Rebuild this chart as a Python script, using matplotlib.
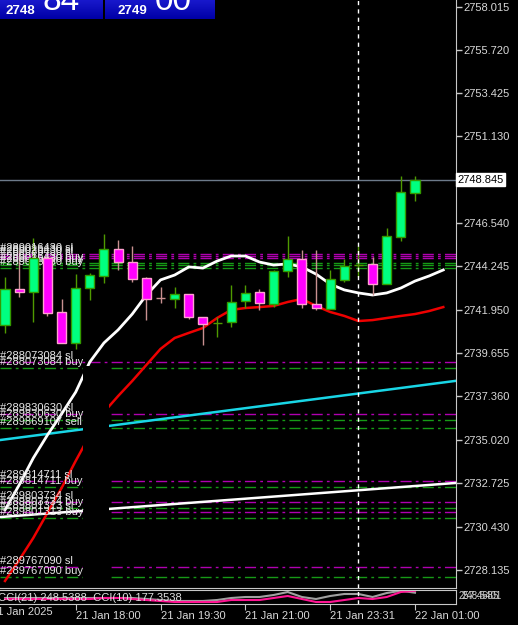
import matplotlib
matplotlib.use('Agg')
import matplotlib.pyplot as plt
import numpy as np
from matplotlib.patches import Rectangle
from matplotlib.colors import LinearSegmentedColormap

plt.rcParams['font.family'] = ['Liberation Sans', 'DejaVu Sans']

# ---------------- data ----------------
opens  = [2741.13, 2743.04, 2742.88, 2744.68, 2741.82, 2740.18, 2743.09, 2743.73, 2745.16, 2744.47,
          2743.62, 2742.58, 2742.51, 2742.78, 2741.55, 2741.22, 2741.29, 2742.40, 2742.88, 2742.24,
          2743.99, 2744.63, 2742.24, 2741.98, 2743.52, 2744.29, 2744.37, 2743.30, 2745.80, 2748.13]
highs  = [2743.68, 2745.11, 2745.74, 2744.68, 2742.51, 2743.83, 2743.89, 2745.96, 2745.64, 2745.32,
          2743.68, 2743.15, 2743.15, 2742.78, 2741.55, 2741.55, 2743.25, 2743.25, 2743.04, 2744.05,
          2745.85, 2745.11, 2745.11, 2744.05, 2744.63, 2745.32, 2744.74, 2746.27, 2749.03, 2749.03]
lows   = [2740.71, 2742.62, 2741.29, 2741.61, 2740.18, 2739.86, 2742.46, 2743.36, 2744.05, 2743.41,
          2741.39, 2742.30, 2742.03, 2741.45, 2740.07, 2740.49, 2741.02, 2742.03, 2741.93, 2742.08,
          2743.68, 2742.03, 2741.93, 2741.98, 2743.41, 2743.68, 2742.72, 2743.30, 2745.58, 2747.71]
closes = [2743.04, 2742.88, 2744.68, 2741.77, 2740.18, 2743.09, 2743.78, 2745.16, 2744.47, 2743.57,
          2742.51, 2742.54, 2742.78, 2741.55, 2741.18, 2741.25, 2742.35, 2742.83, 2742.30, 2743.99,
          2744.63, 2742.24, 2742.03, 2743.57, 2744.26, 2744.31, 2743.30, 2745.85, 2748.185, 2748.845]

ma_fast = [2731.32, 2732.64, 2734.07, 2735.29, 2736.41, 2737.57, 2739.17, 2740.18, 2740.87, 2741.71,
           2742.72, 2743.52, 2743.78, 2744.21, 2744.15, 2744.52, 2744.79, 2744.79, 2744.47, 2744.31,
           2744.37, 2744.21, 2743.83, 2743.30, 2742.99, 2742.83, 2742.72, 2742.83, 2743.09, 2743.46,
           2743.73, 2744.05]
ma_slow = [2727.55, 2728.66, 2729.83, 2731.16, 2732.48, 2733.92, 2735.29, 2736.51, 2737.36, 2738.16,
           2739.01, 2739.86, 2740.44, 2740.71, 2740.97, 2741.50, 2741.93, 2742.03, 2742.08, 2742.14,
           2742.35, 2742.51, 2742.14, 2741.82, 2741.61, 2741.34, 2741.39, 2741.50, 2741.61, 2741.71,
           2741.87, 2742.08]

cci21 = [-61, -61, -61, -61, -61, -61, -61, -23, -23, -61, -99, -136, -174, -174, -174, -174, -99, -99,
         -99, -23, 53, -61, -174, -174, -99, -23, -61, 15, 204, 248.5388]
cci10 = [-23, -23, -23, -23, -23, -23, -23, -23, -23, -23, -61, -99, -136, -136, -136, -99, -23, 15,
         15, 91, 204, 15, -61, 53, 129, 129, 15, 166, 250, 177.3538]

# trend lines (bar index, price)
cyan_line = [(0, 2735.06), (31, 2738.08)]
white_line = [(0, 2730.96), (31, 2732.70)]

# order lines: (label, price, kind)
order_levels = [
    ("#289016430 sl", 2744.92, "sl"), ("#289026430 sl", 2744.79, "sl"), ("#289036430 sl", 2744.66, "sl"),
    ("#289016430 buy", 2744.42, "buy"), ("#289026430 buy", 2744.29, "buy"), ("#289036430 buy", 2744.15, "buy"),
    ("#288073084 sl", 2739.17, "sl"), ("#288073084 buy", 2738.85, "buy"),
    ("#289830630 sl", 2736.41, "sl"), ("#289830630 buy", 2736.09, "buy"), ("#289869107 sell", 2735.67, "buy"),
    ("#289814711 sl", 2732.86, "sl"), ("#289814711 buy", 2732.54, "buy"),
    ("#289803734 sl", 2731.74, "sl"), ("#289803734 buy", 2731.42, "buy"),
    ("#289801313 sl", 2731.20, "sl"), ("#289801313 buy", 2730.90, "buy"),
    ("#289767090 sl", 2728.30, "sl"), ("#289767090 buy", 2727.76, "buy"),
]

price_ticks = [2758.015, 2755.720, 2753.425, 2751.130, 2746.540, 2744.245, 2741.950,
               2739.655, 2737.360, 2735.020, 2732.725, 2730.430, 2728.135]
current_price = 2748.845
time_tick_bars = [5, 11, 17, 23, 29]
time_tick_labels = ['21 Jan 18:00', '21 Jan 19:30', '21 Jan 21:00', '21 Jan 23:31', '22 Jan 01:00']
crosshair_bar = 25

# ---------------- figure ----------------
W, H = 518, 625
fig = plt.figure(figsize=(W / 100, H / 100), dpi=100, facecolor='black')

def fy(py):
    return 1 - py / H

ax = fig.add_axes([0, fy(588), 456 / W, 588 / H])
ax.set_facecolor('black')
ax.set_xlim(-0.354, 31.9)
ax.set_ylim(2727.177, 2758.37)

# order lines
for lab, lvl, kind in order_levels:
    col = '#b000b0' if kind == 'sl' else '#169a16'
    ax.axhline(lvl, color=col, lw=1, ls=(0, (8, 3, 2, 3)), zorder=1)
    ax.text(-0.354, lvl + 0.32, lab, color='#e6e6e6', fontsize=8, ha='left', va='center',
            zorder=6, clip_on=False)

# trend lines
ax.axline(cyan_line[0], cyan_line[1], color='#19d6e6', lw=1.8, zorder=2)
ax.axline(white_line[0], white_line[1], color='white', lw=1.8, zorder=2)

# moving averages
idx = np.arange(len(ma_fast))
ax.plot(idx, ma_slow, color='#ee0000', lw=1.8, zorder=3)
ax.plot(idx, ma_fast, color='white', lw=2, zorder=3)

# black box hiding lines (chart object)
ax.add_patch(Rectangle((5.55, 2727.25), 1.78, 2738.95 - 2727.25, facecolor='black',
                       edgecolor='none', zorder=4))

# bid line
ax.axhline(current_price, color='#6c7a8a', lw=1, zorder=1)

# candles
bw = 0.64
for i, (o, h, l, c) in enumerate(zip(opens, highs, lows, closes)):
    bull = c >= o
    wick = '#4f9a00' if bull else '#c89090'
    fill = '#00ff80' if bull else '#ff00ff'
    edge = '#339900' if bull else '#ffa0d0'
    ax.vlines(i, l, h, color=wick, lw=1, zorder=5)
    hgt = abs(c - o)
    if hgt < 0.08:
        ax.hlines((o + c) / 2, i - bw / 2, i + bw / 2, color=wick, lw=1, zorder=6)
    else:
        ax.add_patch(Rectangle((i - bw / 2, min(o, c)), bw, hgt, facecolor=fill,
                               edgecolor=edge, lw=1, zorder=6))

# crosshair
ax.axvline(crosshair_bar, color='white', lw=1, ls=(0, (3, 3)), zorder=7)

# axes styling
for s in ['left', 'top']:
    ax.spines[s].set_visible(False)
for s in ['right', 'bottom']:
    ax.spines[s].set_color('#c8c8c8')
ax.set_xticks([])
ax.yaxis.tick_right()
ax.set_yticks(price_ticks)
ax.set_yticklabels([f'{v:.3f}' for v in price_ticks])
ax.tick_params(axis='y', colors='#c8c8c8', labelcolor='#d8d8d8', length=4, width=1,
               labelsize=8, pad=1.5)
ax.text(1.004, current_price, f'{current_price:.3f}', transform=ax.get_yaxis_transform(),
        ha='left', va='center', fontsize=8, color='black', clip_on=False,
        bbox=dict(boxstyle='square,pad=0.12', facecolor='white', edgecolor='white'))

# ---------------- CCI pane ----------------
ax2 = fig.add_axes([0, fy(604), 456 / W, 14 / H])
ax2.set_facecolor('black')
ax2.set_xlim(-0.354, 31.9)
ax2.set_ylim(-250, 280)
cidx = np.arange(len(cci21))
ax2.plot(cidx, cci10, color='#a0a0a0', lw=1.5)
ax2.plot(cidx, cci21, color='#ff1493', lw=1.5)
ax2.axvline(crosshair_bar, color='white', lw=1, ls=(0, (3, 3)))
ax2.spines['left'].set_visible(False)
for s in ['right', 'bottom', 'top']:
    ax2.spines[s].set_color('#c8c8c8')
ax2.set_yticks([])
ax2.set_xticks(time_tick_bars)
ax2.set_xticklabels(time_tick_labels)
for t in ax2.get_xticklabels():
    t.set_ha('left')
ax2.tick_params(axis='x', colors='#c8c8c8', labelcolor='#d8d8d8', length=4, labelsize=8, pad=1)
ax2.text(-1.0, -0.2, '21 Jan 2025', transform=ax2.get_xaxis_transform(), ha='left', va='top',
         color='#d8d8d8', fontsize=8, clip_on=False)
ax2.text(-0.5, 0.45, 'CCI(21) 248.5388  CCI(10) 177.3538', transform=ax2.get_xaxis_transform(),
         ha='left', va='center', color='#e0e0e0', fontsize=8, clip_on=False)
ax2.text(1.006, 0.55, '257.4685', transform=ax2.transAxes, ha='left', va='center',
         color='#d0d0d0', fontsize=7, clip_on=False)
ax2.text(1.012, 0.55, '248.5401', transform=ax2.transAxes, ha='left', va='center',
         color='#d0d0d0', fontsize=7, clip_on=False)

# ---------------- top-left panels ----------------
ov = fig.add_axes([0, 0, 1, 1], zorder=10)
ov.set_xlim(0, W)
ov.set_ylim(H, 0)
ov.axis('off')
ov.patch.set_alpha(0)
cmap = LinearSegmentedColormap.from_list('blu', ['#1818cc', '#0000a6'])
grad = np.linspace(0, 1, 20).reshape(-1, 1)
for x0, x1, small, big in [(0, 103, '2748', '84'), (105, 215, '2749', '00')]:
    ov.imshow(grad, extent=[x0, x1, 19, 0], cmap=cmap, aspect='auto', zorder=1)
    ov.text(x0 + 5 if x0 == 0 else x0 + 12, 10.5, small, color='white', fontsize=9.5,
            fontweight='bold', ha='left', va='center', zorder=2)
    ov.text(x0 + 42 if x0 == 0 else x0 + 50, 10, big, color='white', fontsize=24,
            ha='left', va='baseline', zorder=2)
ov.set_xlim(0, W)
ov.set_ylim(H, 0)

fig.savefig('out.png', dpi=100, facecolor='black')
